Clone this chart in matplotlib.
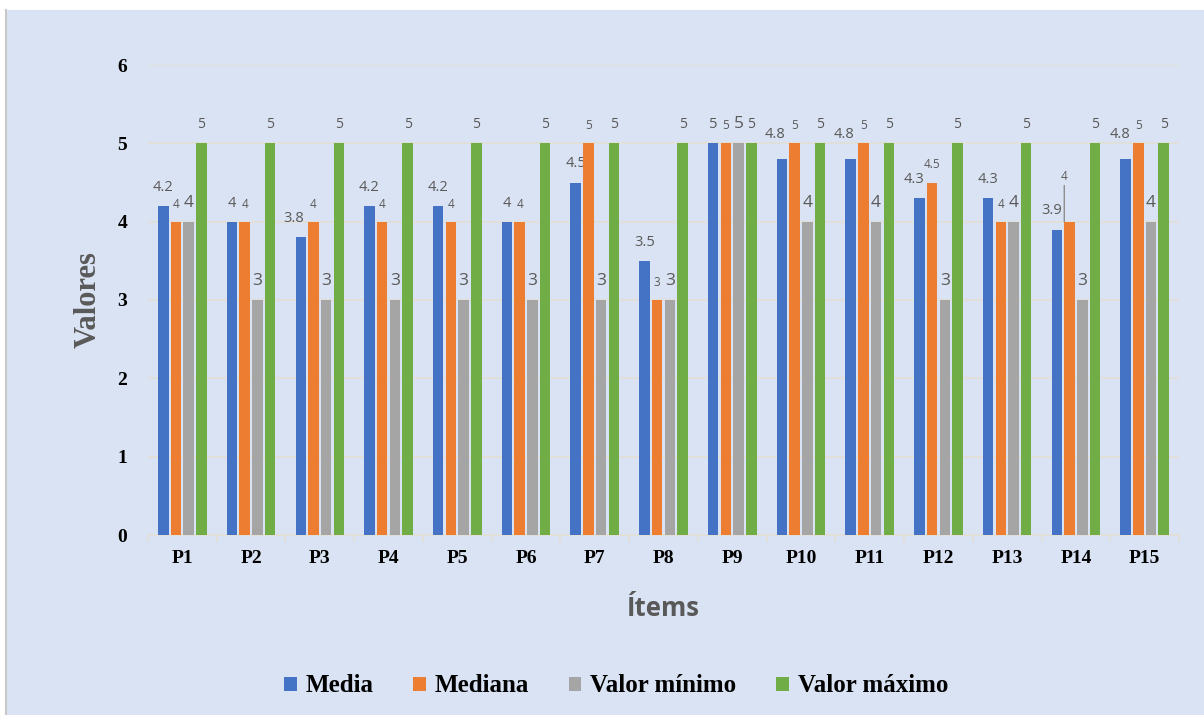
import numpy as np
import matplotlib
matplotlib.use("Agg")
import matplotlib.pyplot as plt
from matplotlib.patches import Rectangle

items = ["P1", "P2", "P3", "P4", "P5", "P6", "P7", "P8", "P9", "P10", "P11", "P12", "P13", "P14", "P15"]
media = [4.2, 4, 3.8, 4.2, 4.2, 4, 4.5, 3.5, 5, 4.8, 4.8, 4.3, 4.3, 3.9, 4.8]
mediana = [4, 4, 4, 4, 4, 4, 5, 3, 5, 5, 5, 4.5, 4, 4, 5]
minimo = [4, 3, 3, 3, 3, 3, 3, 3, 5, 4, 4, 3, 4, 3, 4]
maximo = [5, 5, 5, 5, 5, 5, 5, 5, 5, 5, 5, 5, 5, 5, 5]

series = [
    ("Media", media, "#4472C4", 10.5),
    ("Mediana", mediana, "#ED7D31", 8.5),
    ("Valor mínimo", minimo, "#A5A5A5", 12.5),
    ("Valor máximo", maximo, "#70AD47", 10),
]

# labels moved by hand in the original (points)
moved = {("Media", "P3"): (-5, 0), ("Media", "P10"): (-5, 4), ("Media", "P11"): (-5, 4),
         ("Media", "P15"): (-4, 4), ("Media", "P12"): (-4, 0), ("Media", "P14"): (-4, 0)}

bg = "#DAE3F3"
lbl = "#595959"
serif = ["Liberation Serif", "DejaVu Serif"]

fig = plt.figure(figsize=(12.04, 7.15), dpi=100, facecolor="white")
fig.patches.append(Rectangle((7 / 1204, 0), 1, 1 - 10 / 715, transform=fig.transFigure,
                             facecolor=bg, edgecolor="none", zorder=-10))
fig.lines.append(plt.Line2D([6 / 1204, 6 / 1204], [0, 1 - 10 / 715], transform=fig.transFigure,
                            color="#C8C8C8", lw=1.5))

ax = fig.add_axes([148 / 1204, 1 - 535 / 715, (1179 - 148) / 1204, (535 - 65) / 715])
ax.set_facecolor(bg)

x = np.arange(len(items))
w = 0.153
pitch = 0.185
for i, (name, vals, col, fs) in enumerate(series):
    pos = x + (i - 1.5) * pitch
    ax.bar(pos, vals, w, color=col, label=name, zorder=3)
    for it, xp, v in zip(items, pos, vals):
        dx, dy = moved.get((name, it), (0, 0))
        if name == "Mediana" and it == "P14":
            # label lifted with a leader line
            ax.annotate(f"{v:g}", (xp - w / 2, v), xytext=(0, 28), textcoords="offset points",
                        ha="center", va="bottom", fontsize=fs, color=lbl, family="Open Sans",
                        arrowprops=dict(arrowstyle="-", color="#8C8C8C", lw=1, shrinkA=0, shrinkB=0))
            continue
        ax.annotate(f"{v:g}", (xp, v), xytext=(dx, 8 + dy), textcoords="offset points",
                    ha="center", va="bottom", fontsize=fs, color=lbl, family="Open Sans")

ax.set_xlim(-0.5, len(items) - 0.5)
ax.set_ylim(0, 6)
ax.set_yticks(range(7))
ax.yaxis.grid(True, color="#E3DFD6", lw=1.2, zorder=0)
ax.set_axisbelow(True)
for s in ["top", "right", "left"]:
    ax.spines[s].set_visible(False)
ax.spines["bottom"].set_color("#E3DFD6")
ax.spines["bottom"].set_linewidth(1.2)

ax.set_xticks(x)
ax.set_xticklabels(items, fontsize=14, fontweight="bold", family=serif)
ax.set_xticks(np.arange(-0.5, len(items)), minor=True)
ax.tick_params(axis="x", which="major", length=0, pad=11)
ax.tick_params(axis="x", which="minor", length=5, color="#E3DFD6", width=1.2)
ax.tick_params(axis="y", length=0, pad=15)
for t in ax.get_yticklabels():
    t.set_fontsize(14)
    t.set_fontweight("bold")
    t.set_family(serif)

ax.set_ylabel("Valores", fontsize=22, fontweight="bold", family=serif, color=lbl)
ax.yaxis.set_label_coords(-45 / 1031, 0.5)
ax.set_xlabel("Ítems", fontsize=18.5, fontweight="bold", family="Open Sans", color=lbl, labelpad=20)

leg = fig.legend(loc="center", bbox_to_anchor=(616 / 1204, 1 - 686 / 715), ncol=4, frameon=False,
                 handlelength=0.5, handleheight=0.5, handletextpad=0.35, columnspacing=1.6,
                 prop={"family": serif, "weight": "bold", "size": 18})

fig.savefig("out.png", dpi=100, facecolor="white")
